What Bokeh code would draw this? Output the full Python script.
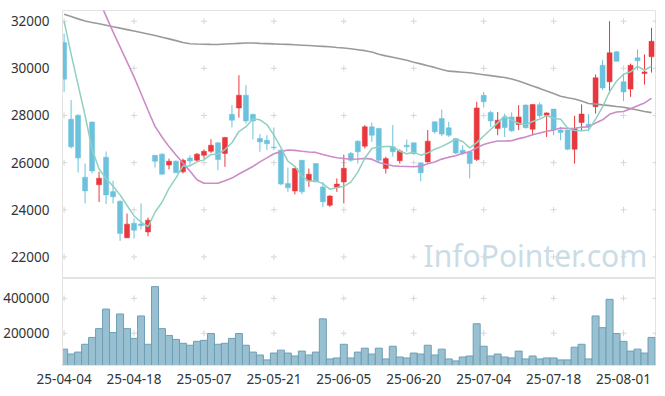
from bokeh.plotting import figure
from bokeh.layouts import column
from bokeh.models import Range1d, FixedTicker, BasicTickFormatter, Label, ColumnDataSource
from bokeh.embed import file_html
from bokeh.resources import INLINE

# ---------------- data ----------------
tick_idx = [0, 10, 20, 30, 40, 50, 60, 70, 80]
tick_labels = ["25-04-04", "25-04-18", "25-05-07", "25-05-21", "25-06-05",
               "25-06-20", "25-07-04", "25-07-18", "25-08-01"]
price_ticks = [22000, 24000, 26000, 28000, 30000, 32000]
volume_ticks = [200000, 400000]

opens = [31100, 27840, 28010, 25380, 27720, 25060, 26230, 24770, 24360, 22810,
         23430, 23400, 23060, 26310, 26360, 25900, 26060, 25610, 26200, 26100,
         26310, 26480, 26840, 26390, 28050, 28320, 28860, 28050, 27020, 26950,
         26660, 26530, 25110, 24800, 26100, 25230, 25960, 24970, 24190, 24940,
         25180, 26390, 26910, 26700, 27520, 27450, 25750, 26670, 26080, 26740,
         26840, 25990, 26030, 27730, 27870, 27480, 27020, 26530, 26460, 26130,
         28860, 28130, 27450, 27900, 27940, 27620, 28440, 27420, 28460, 28010,
         28270, 27380, 27380, 26570, 27700, 27630, 28370, 30130, 29430, 30700,
         29430, 29120, 30450, 29780, 30490]
highs = [31480, 28650, 28050, 25960, 27750, 25610, 26470, 25230, 24400, 23840,
         23630, 24270, 23670, 26320, 26400, 26170, 26100, 26170, 26310, 26410,
         26560, 26990, 26870, 27090, 28440, 29710, 29290, 28070, 27210, 27160,
         27490, 26560, 25790, 25790, 26110, 25750, 25970, 25180, 24620, 25330,
         26340, 26450, 26950, 27590, 27700, 27480, 26250, 27590, 26560, 26980,
         26850, 26000, 27380, 27740, 28250, 27730, 27050, 26740, 26480, 28580,
         29000, 28200, 28150, 28080, 28130, 28440, 28470, 28470, 28550, 28130,
         28280, 27520, 27400, 27990, 28470, 28060, 29740, 30350, 32000, 30730,
         29780, 30200, 30810, 30590, 31720]
lows = [29000, 26600, 25580, 24270, 25540, 24330, 24240, 24270, 22680, 22800,
        22780, 23160, 22880, 25790, 25500, 25710, 25560, 25540, 25850, 26040,
        26170, 26410, 25680, 25820, 27490, 27910, 27660, 26980, 26460, 26530,
        26530, 25040, 24760, 24650, 24660, 24970, 25180, 24120, 24120, 24760,
        24270, 26030, 25960, 26600, 26880, 26030, 25540, 26250, 25960, 26460,
        26320, 25210, 26000, 27230, 27120, 27090, 26360, 26320, 25330, 26070,
        28340, 27520, 27160, 27090, 27300, 27380, 27450, 27160, 27900, 27090,
        27160, 26950, 26530, 25960, 27380, 27330, 28080, 29070, 28930, 30300,
        28610, 28790, 29920, 29310, 29820]
closes = [29540, 26670, 26200, 24800, 25650, 25340, 24630, 24550, 22990, 23390,
          23130, 23330, 23560, 26060, 25510, 26060, 25570, 26100, 26070, 26360,
          26480, 26740, 26130, 27070, 27800, 28860, 27770, 27770, 26880, 26800,
          26630, 25090, 24930, 25750, 24760, 25510, 25180, 24340, 24580, 25090,
          25760, 26100, 26460, 27520, 27160, 26100, 26170, 26460, 26490, 26670,
          26390, 25570, 26910, 27310, 27210, 27160, 26410, 26390, 25960, 28320,
          28580, 27770, 27800, 27490, 27350, 27940, 27480, 28465, 27990, 28110,
          27380, 27280, 26570, 27450, 28060, 27550, 29600, 29170, 30660, 30300,
          29000, 30130, 30320, 29850, 31150]
volumes = [108700, 80700, 91900, 136700, 175900, 226300, 338400, 203900, 310300, 226300,
           170300, 299100, 136700, 467200, 226300, 187100, 164700, 142300, 131100, 153500,
           159100, 198300, 136700, 142300, 170300, 198300, 131100, 91900, 75100, 47100,
           86300, 103100, 86300, 69500, 97500, 75100, 91900, 282300, 52700, 58300,
           136700, 58300, 91900, 114300, 80700, 114300, 52700, 125500, 63900, 58300,
           86300, 80700, 131100, 75100, 108700, 52700, 41500, 63900, 69500, 254300,
           125500, 69500, 80700, 63900, 58300, 97500, 52700, 69500, 52700, 58300,
           58300, 47100, 47100, 119900, 136700, 52700, 299100, 231900, 394400, 198300,
           153500, 97500, 108700, 86300, 175900]
ma5 = [32000, 30600, 29300, 28000, 26572, 25732, 25324, 24994, 24632, 24180,
       23738, 23478, 23280, 23894, 24318, 24904, 25352, 25860, 25862, 26032,
       26116, 26350, 26356, 26556, 26844, 27320, 27526, 27854, 27816, 27616,
       27170, 26634, 26066, 25840, 25432, 25208, 25226, 25108, 24874, 24940,
       24990, 25174, 25598, 26186, 26600, 26668, 26682, 26682, 26476, 26378,
       26436, 26316, 26406, 26570, 26678, 26832, 27000, 26896, 26626, 26848,
       27132, 27404, 27686, 27992, 27798, 27670, 27612, 27745, 27845, 27997,
       27885, 27845, 27466, 27358, 27348, 27382, 27846, 28366, 29008, 29456,
       29746, 29852, 30082, 29920, 30090]
nan = float("nan")
ma20 = [nan, nan, nan, nan, nan, 32900, 32215, 31548, 30911, 30274,
        29637, 28930, 28224, 27540, 27087, 26680, 26322, 25980, 25640, 25276,
        25123, 25126, 25123, 25236, 25344, 25520, 25677, 25838, 26032, 26203,
        26378, 26466, 26534, 26519, 26481, 26454, 26434, 26346, 26272, 26208,
        26172, 26140, 26157, 26179, 26147, 26009, 25929, 25864, 25844, 25838,
        25826, 25850, 25949, 26027, 26149, 26232, 26293, 26396, 26465, 26626,
        26767, 26851, 26918, 26916, 26926, 27018, 27083, 27183, 27258, 27330,
        27380, 27465, 27448, 27455, 27498, 27517, 27677, 27816, 28051, 28150,
        28171, 28289, 28415, 28533, 28723]
ma60 = [32297, 32198, 32099, 32007, 31948, 31889, 31830, 31767, 31705, 31644,
        31582, 31520, 31459, 31397, 31323, 31250, 31176, 31100, 31045, 31030,
        31020, 31015, 31012, 31030, 31045, 31060, 31075, 31075, 31060, 31048,
        31036, 31025, 31015, 30998, 30982, 30966, 30950, 30934, 30918, 30885,
        30860, 30830, 30790, 30750, 30690, 30600, 30530, 30470, 30410, 30340,
        30260, 30190, 30110, 30040, 29950, 29880, 29860, 29835, 29810, 29770,
        29730, 29690, 29650, 29610, 29550, 29460, 29360, 29250, 29150, 29040,
        28930, 28820, 28750, 28700, 28610, 28510, 28480, 28450, 28420, 28380,
        28350, 28290, 28230, 28170, 28120]

# ---------------- styling ----------------
RED = "#e8383d"
BLUE = "#6cc2dc"
FONT = "Noto Sans"
FSIZE = "13.5px"
TXT = "#333333"
BORDER = "#e3e3e3"
CROSS = "#d6d6d6"

n = len(closes)
idx = list(range(n))
colors = [RED if c >= o else BLUE for o, c in zip(opens, closes)]
src = ColumnDataSource(dict(
    x=idx, high=highs, low=lows,
    top=[max(o, c) for o, c in zip(opens, closes)],
    bottom=[min(o, c) for o, c in zip(opens, closes)],
    color=colors, vol=volumes, ma5=ma5, ma20=ma20, ma60=ma60))

x_range = Range1d(-0.23, 84.57)

p = figure(width=657, height=278, x_range=x_range, y_range=Range1d(21084, 32454),
           output_backend="svg", toolbar_location=None, x_axis_location=None,
           min_border_left=62, min_border_right=2, min_border_top=10, min_border_bottom=0)
p.xgrid.visible = False
p.ygrid.visible = False
p.outline_line_color = BORDER
p.background_fill_color = "white"

# grid crosses
cross_x = tick_idx + [x_range.end]
p.scatter([x for x in cross_x for _ in price_ticks], [y for _ in cross_x for y in price_ticks],
          marker="cross", size=6, line_color=CROSS, line_width=1)

wm = Label(x=83.4, y=22080, text="InfoPointer.com", text_align="right",
           text_baseline="middle", text_font=FONT, text_font_size="30px",
           text_color="#cadce6", level="underlay")
p.add_layout(wm)

p.segment(x0="x", y0="low", x1="x", y1="high", line_color="color", line_width=1, source=src)
p.vbar(x="x", top="top", bottom="bottom", width=0.72, fill_color="color",
       line_color="color", line_width=0.5, source=src)

p.line("x", "ma60", source=src, line_color="#9a9a9a", line_width=1.6)
p.line("x", "ma20", source=src, line_color="#cc8cc6", line_width=1.6)
p.line("x", "ma5", source=src, line_color="#8fd0c2", line_width=1.5)

ya = p.yaxis[0]
ya.ticker = FixedTicker(ticks=price_ticks)
ya.major_tick_line_color = None
ya.minor_tick_line_color = None
ya.axis_line_color = BORDER
ya.major_label_text_font = FONT
ya.major_label_text_font_size = FSIZE
ya.major_label_text_color = TXT
ya.major_label_standoff = 7

# ---------------- volume ----------------
v = figure(width=657, height=108, x_range=x_range, y_range=Range1d(15000, 513700),
           output_backend="svg", toolbar_location=None,
           min_border_left=62, min_border_right=2, min_border_top=0, min_border_bottom=19)
v.xgrid.visible = False
v.ygrid.visible = False
v.outline_line_color = BORDER
v.scatter([x for x in cross_x for _ in volume_ticks], [y for _ in cross_x for y in volume_ticks],
          marker="cross", size=6, line_color=CROSS, line_width=1)
v.vbar(x="x", top="vol", bottom=0, width=1.0, fill_color="#98c0d0",
       line_color="#6e9fb6", line_width=1, source=src)

vy = v.yaxis[0]
vy.ticker = FixedTicker(ticks=volume_ticks)
vy.formatter = BasicTickFormatter(use_scientific=False)
vy.major_tick_line_color = None
vy.minor_tick_line_color = None
vy.axis_line_color = BORDER
vy.major_label_text_font = FONT
vy.major_label_text_font_size = FSIZE
vy.major_label_text_color = TXT
vy.major_label_standoff = 7

vx = v.xaxis[0]
vx.ticker = FixedTicker(ticks=tick_idx)
vx.major_label_overrides = {t: lab for t, lab in zip(tick_idx, tick_labels)}
vx.major_tick_line_color = None
vx.minor_tick_line_color = None
vx.axis_line_color = BORDER
vx.major_label_text_font = FONT
vx.major_label_text_font_size = FSIZE
vx.major_label_text_color = TXT
vx.major_label_standoff = 2

layout = column(p, v, spacing=0)
open("out.html", "w").write(file_html(layout, INLINE))
